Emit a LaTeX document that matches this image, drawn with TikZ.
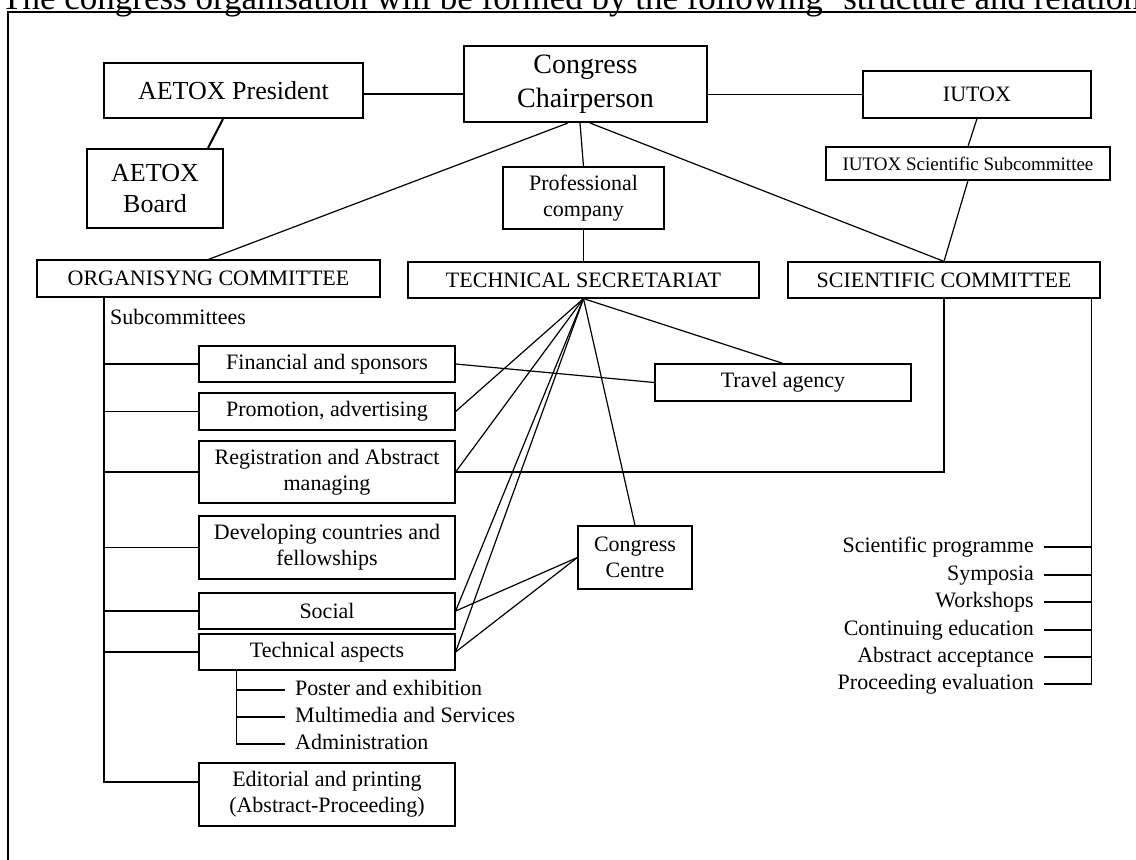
\documentclass[tikz,border=0pt]{standalone}
\usepackage{fontspec}
\setmainfont{Liberation Serif}
\usetikzlibrary{calc}

\tikzset{
  orgbox/.style={draw, line width=1.2pt, inner sep=0pt, align=center, font=\fontsize{22}{26}\selectfont},
  headbox/.style={orgbox, line width=2pt},
  subbox/.style={orgbox, minimum width=256pt},
  itemtext/.style={inner xsep=10pt, inner ysep=0pt, text height=15pt, text depth=5pt, font=\fontsize{22}{26}\selectfont},
  link/.style={line width=1.2pt},
}

\begin{document}
\begin{tikzpicture}[x=1pt,y=-1pt]
    \useasboundingbox (0,0) rectangle (1136,860);
    % title and frame
    \node[anchor=base west, inner sep=0pt, font=\fontsize{35}{40}\selectfont] (title) at (1,9) {The congress organisation will be formed by the following ‘structure and relations’};
    \draw[line width=2pt] (8,12) rectangle (1150,880);

    % heads
    \node[headbox, minimum width=259pt, minimum height=55pt, font=\fontsize{26}{31}\selectfont] (pres) at (233.5,90.5) {AETOX President};
    \node[headbox, minimum width=136pt, minimum height=79pt, font=\fontsize{26}{31}\selectfont] (board) at (155,188.5) {AETOX\\Board};
    \node[headbox, minimum width=243pt, minimum height=76pt, font=\fontsize{28}{34}\selectfont] (chair) at (585.5,84) {Congress\\Chairperson};
    \node[orgbox, minimum width=228pt, minimum height=47pt] (iutox) at (977,94.5) {IUTOX};
    \node[orgbox, minimum width=284pt, minimum height=33pt, font=\fontsize{19}{23}\selectfont] (iusub) at (968,163.5) {IUTOX Scientific Subcommittee};
    \node[orgbox, minimum width=161pt, minimum height=62pt] (prof) at (583.5,198) {Professional\\company};

    % committees
    \node[orgbox, minimum width=343pt, minimum height=37pt] (org) at (208.5,278.5) {ORGANISYNG COMMITTEE};
    \node[orgbox, minimum width=351pt, minimum height=36pt] (tech) at (583.5,280) {TECHNICAL SECRETARIAT};
    \node[orgbox, minimum width=312pt, minimum height=36pt] (sci) at (944,280) {SCIENTIFIC COMMITTEE};
    \node[orgbox, minimum width=256pt, minimum height=37pt] (travel) at (783,382.5) {Travel agency};
    \node[orgbox, minimum width=114pt, minimum height=63pt] (centre) at (635,557.5) {Congress\\Centre};

    % subcommittees
    \node[anchor=base west, inner sep=0pt, font=\fontsize{22}{26}\selectfont] (sublabel) at (110,324) {Subcommittees};
    \node[subbox, minimum height=36pt] (fin) at (327,364) {Financial and sponsors};
    \node[subbox, minimum height=37pt] (promo) at (327,411.5) {Promotion, advertising};
    \node[subbox, minimum height=62pt] (regis) at (327,472) {Registration and Abstract\\managing};
    \node[subbox, minimum height=63pt] (devel) at (327,547.5) {Developing countries and\\fellowships};
    \node[subbox, minimum height=36pt] (social) at (327,611) {Social};
    \node[subbox, minimum height=36pt] (techasp) at (327,652) {Technical aspects};
    \node[subbox, minimum height=63pt] (edit) at (327,794.5) {Editorial and printing\\(Abstract-Proceeding)};

    \foreach \nm/\yy/\txt in {ta1/690/Poster and exhibition, ta2/717/Multimedia and Services, ta3/744/Administration}
        \node[itemtext, anchor=west] (\nm) at (285,\yy) {\txt};

    \foreach \nm/\yy/\txt in {sp1/547/Scientific programme, sp2/575/Symposia, sp3/602/Workshops, sp4/630/Continuing education, sp5/657/Abstract acceptance, sp6/684/Proceeding evaluation}
        \node[itemtext, anchor=east] (\nm) at (1044,\yy) {\txt};

    % top links
    \draw[link] ([yshift=-3.5pt]pres.east) -- ([yshift=-3.5pt]pres.east -| chair.west);
    \draw[link] (chair.east |- iutox.west) -- (iutox.west);
    \draw[line width=2pt] ($(pres.south)+(-10.5,0)$) -- ($(board.north east)+(-16,0)$);
    \draw[link] ($(chair.south)+(-17.5,0)$) -- (org.north);
    \draw[link] ($(chair.south)+(-5.5,0)$) -- (prof.north);
    \draw[link] ($(chair.south)+(4.5,0)$) -- (sci.north);
    \draw[link] (iutox.south) -- (iusub.north);
    \draw[link] (iusub.south) -- (sci.north);
    \draw[link] (prof.south) -- (tech.north);

    % organising committee tree
    \coordinate (orgspine) at ($(org.south west)+(67.5,0)$);
    \draw[link] (orgspine) |- ([yshift=12.5pt]edit.west);
    \foreach \nm in {fin,promo,regis,devel,social,techasp}
        \draw[link] (orgspine |- \nm.west) -- (\nm.west);

    \coordinate (taspine) at ($(techasp.south west)+(38,0)$);
    \draw[link] (taspine) |- (ta3.west);
    \foreach \nm in {ta1,ta2}
        \draw[link] (taspine |- \nm.west) -- (\nm.west);

    % scientific committee list
    \coordinate (scispine) at ($(sci.south east)+(-9,0)$);
    \draw[link] (scispine) |- (sp6.east);
    \foreach \i in {1,...,5}
        \draw[link] (scispine |- sp\i.east) -- (sp\i.east);

    % secretariat fan
    \foreach \nm in {travel.north,promo.east,regis.east,social.east,techasp.east,centre.north}
        \draw[link] (tech.south) -- (\nm);
    \draw[link] (centre.west) -- (social.east);
    \draw[link] (centre.west) -- (techasp.east);
    \draw[link] (fin.east) -- (travel.west);
    \draw[link] (regis.east) -| (sci.south);
\end{tikzpicture}
\end{document}
